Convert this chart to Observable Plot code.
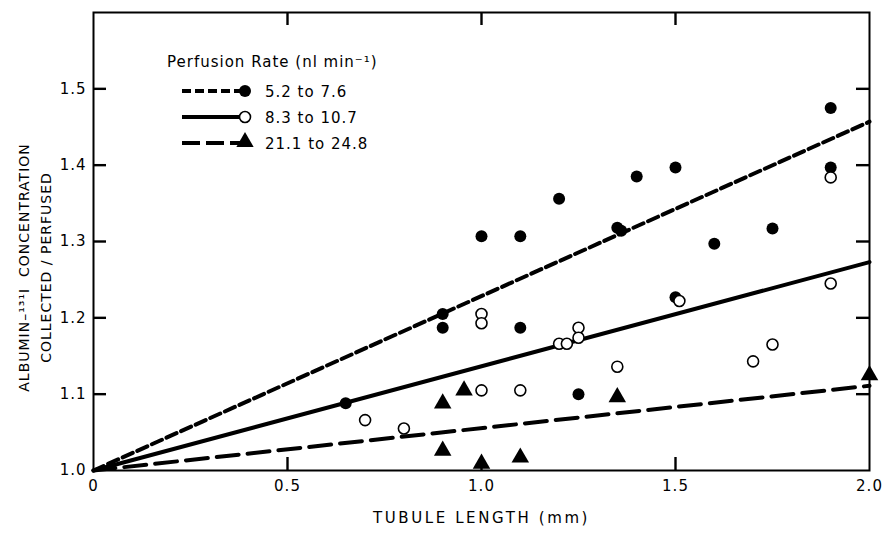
<!DOCTYPE html>
<html>
<head>
<meta charset="utf-8">
<script src="https://cdn.jsdelivr.net/npm/d3@7"></script>
<script src="https://cdn.jsdelivr.net/npm/@observablehq/plot@0.6"></script>
<style>
  body { margin: 0; background: #fff; }
  #wrap { position: relative; width: 885px; height: 535px; }
  #wrap svg text { letter-spacing: 1px; }
</style>
</head>
<body>
<div id="wrap"></div>
<script>
// ---- data ----
const rateLow_x  = [0.65, 0.9, 0.9, 1.0, 1.1, 1.1, 1.2, 1.25, 1.35, 1.36, 1.4, 1.5, 1.5, 1.6, 1.75, 1.9, 1.9];
const rateLow_y  = [1.088, 1.205, 1.187, 1.307, 1.307, 1.187, 1.356, 1.100, 1.318, 1.314, 1.385, 1.397, 1.227, 1.297, 1.317, 1.475, 1.397];

const rateMid_x  = [0.7, 0.8, 1.0, 1.0, 1.0, 1.1, 1.2, 1.22, 1.25, 1.25, 1.35, 1.51, 1.7, 1.75, 1.9, 1.9];
const rateMid_y  = [1.066, 1.055, 1.205, 1.193, 1.105, 1.105, 1.166, 1.166, 1.187, 1.174, 1.136, 1.222, 1.143, 1.165, 1.384, 1.245];

const rateHigh_x = [0.9, 0.955, 0.9, 1.0, 1.1, 1.35, 2.0];
const rateHigh_y = [1.088, 1.105, 1.026, 1.009, 1.017, 1.096, 1.125];

const fit_x      = [0, 2.0];
const fitLow_y   = [1.0, 1.457];
const fitMid_y   = [1.0, 1.273];
const fitHigh_y  = [1.0, 1.111];

const xTicks = [0, 0.5, 1.0, 1.5, 2.0];
const yTicks = [1.0, 1.1, 1.2, 1.3, 1.4, 1.5];
const yTicksInner = [1.1, 1.2, 1.3, 1.4, 1.5];
const xTicksInner = [0.5, 1.0, 1.5];

const legendTitle = "Perfusion Rate (nl min⁻¹)";
const legendLabels = ["5.2 to 7.6", "8.3 to 10.7", "21.1 to 24.8"];
const xLabel = "TUBULE LENGTH (mm)";
const yLabel1 = "ALBUMIN–¹³¹I  CONCENTRATION";
const yLabel2 = "COLLECTED / PERFUSED";

// ---- tables ----
const zip = (xs, ys) => xs.map((x, i) => ({x, y: ys[i]}));
const low = zip(rateLow_x, rateLow_y);
const mid = zip(rateMid_x, rateMid_y);
const high = zip(rateHigh_x, rateHigh_y);
const fLow = zip(fit_x, fitLow_y);
const fMid = zip(fit_x, fitMid_y);
const fHigh = zip(fit_x, fitHigh_y);

const font = "'DejaVu Sans', sans-serif";
const W = 885, H = 535, ML = 93, MR = 16, MT = 12, MB = 65;
const PW = W - ML - MR, PH = H - MT - MB;
const TS = 13; // inward tick length

const chart = Plot.plot({
  width: W,
  height: H,
  marginLeft: ML,
  marginRight: MR,
  marginTop: MT,
  marginBottom: MB,
  style: {fontFamily: font, fontSize: "15px", color: "#000", background: "#fff"},
  x: {domain: [0, 2.0]},
  y: {domain: [1.0, 1.6]},
  marks: [
    // tick labels
    Plot.axisX({ticks: xTicks, tickSize: 0, tickPadding: 10, tickFormat: d => d === 0 ? "0" : d.toFixed(1), label: null, fontSize: 15}),
    Plot.axisY({ticks: yTicks, tickSize: 0, tickPadding: 7, tickFormat: d => d.toFixed(1), label: null, fontSize: 15}),
    Plot.frame({stroke: "#000", strokeWidth: 2}),
    // inward ticks on all four sides
    Plot.tickY(yTicksInner, {y: d => d, insetRight: PW - TS, stroke: "#000", strokeWidth: 2.4}),
    Plot.tickY(yTicksInner, {y: d => d, insetLeft: PW - TS, stroke: "#000", strokeWidth: 2.4}),
    Plot.tickX(xTicksInner, {x: d => d, insetTop: PH - TS, stroke: "#000", strokeWidth: 2.4}),
    Plot.tickX(xTicksInner, {x: d => d, insetBottom: PH - TS, stroke: "#000", strokeWidth: 2.4}),
    // fitted lines
    Plot.line(fLow, {x: "x", y: "y", stroke: "#000", strokeWidth: 4, strokeDasharray: "11,5"}),
    Plot.line(fMid, {x: "x", y: "y", stroke: "#000", strokeWidth: 4}),
    Plot.line(fHigh, {x: "x", y: "y", stroke: "#000", strokeWidth: 4, strokeDasharray: "22,9"}),
    // points
    Plot.dot(low, {x: "x", y: "y", r: 6, fill: "#000", stroke: "none"}),
    Plot.dot(mid, {x: "x", y: "y", r: 5.5, fill: "#fff", stroke: "#000", strokeWidth: 1.6}),
    Plot.dot(high, {x: "x", y: "y", symbol: "triangle", r: 6.5, fill: "#000", stroke: "none"}),
    // axis titles
    Plot.text([xLabel], {text: d => d, frameAnchor: "bottom", dy: 52, fontSize: 15, textAnchor: "middle"}),
    Plot.text([yLabel1], {text: d => d, frameAnchor: "left", textAnchor: "middle", rotate: -90, dx: -69, dy: 26, fontSize: 14}),
    Plot.text([yLabel2], {text: d => d, frameAnchor: "left", textAnchor: "middle", rotate: -90, dx: -47, dy: 26, fontSize: 14})
  ]
});

const wrap = document.getElementById("wrap");
wrap.appendChild(chart);
const svg = d3.select(chart);
// wider spacing for the x-axis title, as in the original
svg.selectAll("text").filter(function() { return this.textContent === xLabel; })
  .style("letter-spacing", "2.6px");

// ---- legend (inside the plot's SVG) ----
const leg = svg.append("g").attr("text-anchor", "start")
  .style("font-family", font).style("font-size", "15px").style("letter-spacing", "1px");
leg.append("text").attr("x", 167).attr("y", 67).attr("fill", "#000").text(legendTitle);
const rows = [
  {y: 91, dash: "9,4", sym: "filled"},
  {y: 117, dash: null, sym: "open"},
  {y: 143, dash: "18,6", sym: "tri"}
];
rows.forEach((r, i) => {
  const line = leg.append("line").attr("x1", 182).attr("x2", 243).attr("y1", r.y).attr("y2", r.y)
    .attr("stroke", "#000").attr("stroke-width", 4);
  if (r.dash) line.attr("stroke-dasharray", r.dash);
  if (r.sym === "filled") leg.append("circle").attr("cx", 245).attr("cy", r.y).attr("r", 6).attr("fill", "#000");
  if (r.sym === "open") leg.append("circle").attr("cx", 245).attr("cy", r.y).attr("r", 5.5).attr("fill", "#fff").attr("stroke", "#000").attr("stroke-width", 1.6);
  if (r.sym === "tri") leg.append("path").attr("d", d3.symbol(d3.symbolTriangle, 130)()).attr("transform", `translate(245,${r.y - 1})`).attr("fill", "#000");
  leg.append("text").attr("x", 265).attr("y", r.y + 5.5).attr("fill", "#000").text(legendLabels[i]);
});
</script>
</body>
</html>
